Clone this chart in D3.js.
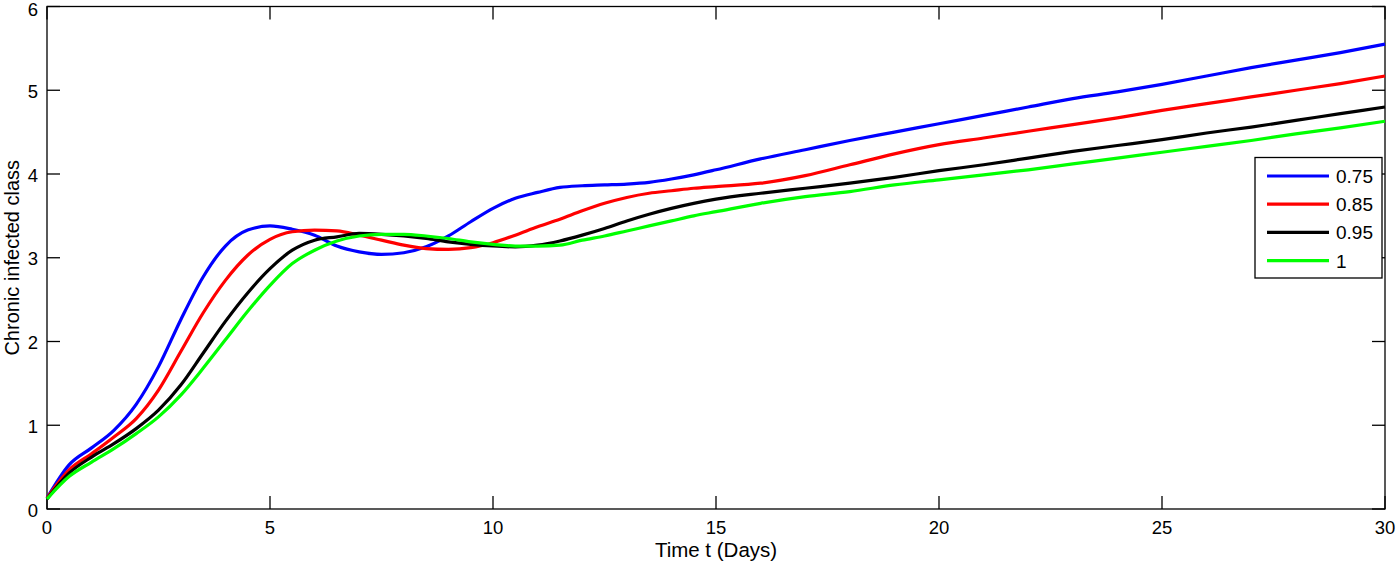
<!DOCTYPE html>
<html><head><meta charset="utf-8">
<script src="https://cdn.jsdelivr.net/npm/d3@7"></script>
<style>body{margin:0;background:#fff}svg{display:block}text{font-family:"Liberation Sans",Arial,sans-serif;fill:#000}</style>
</head><body><svg id="c" width="1397" height="563"></svg>
<script>
const times = [0,0.5,1,1.5,2,2.5,3,3.5,4,4.5,5,5.5,6,6.5,7,7.5,8,8.5,9,9.5,10,10.5,11,11.5,12,12.5,13,13.5,14,14.5,15,16,17,18,19,20,21,22,23,24,25,26,27,28,29,30];
const seriesNames = ["0.75","0.85","0.95","1"];
const seriesColors = ["#0000ff","#ff0000","#000000","#00ff00"];
const blue  = [0.13,0.53,0.73,0.94,1.25,1.70,2.26,2.77,3.14,3.33,3.38,3.34,3.27,3.14,3.07,3.04,3.06,3.13,3.26,3.43,3.59,3.71,3.78,3.84,3.86,3.87,3.88,3.90,3.94,3.99,4.05,4.18,4.29,4.40,4.50,4.60,4.70,4.80,4.90,4.98,5.07,5.17,5.27,5.36,5.45,5.55];
const red   = [0.13,0.47,0.66,0.86,1.08,1.42,1.88,2.34,2.73,3.03,3.22,3.31,3.33,3.32,3.27,3.21,3.15,3.11,3.10,3.12,3.18,3.27,3.37,3.46,3.56,3.65,3.72,3.77,3.80,3.83,3.85,3.89,3.98,4.11,4.24,4.35,4.43,4.51,4.59,4.67,4.76,4.84,4.92,5.00,5.08,5.17];
const black = [0.12,0.43,0.62,0.78,0.96,1.18,1.48,1.86,2.24,2.58,2.87,3.09,3.21,3.25,3.29,3.28,3.26,3.23,3.19,3.16,3.14,3.13,3.15,3.20,3.27,3.35,3.44,3.52,3.59,3.65,3.70,3.77,3.83,3.89,3.96,4.04,4.11,4.19,4.27,4.34,4.41,4.49,4.56,4.64,4.72,4.80];
const green = [0.12,0.39,0.56,0.72,0.90,1.10,1.36,1.68,2.02,2.36,2.67,2.93,3.09,3.20,3.26,3.28,3.28,3.26,3.23,3.19,3.16,3.14,3.14,3.15,3.21,3.26,3.32,3.38,3.44,3.50,3.55,3.65,3.73,3.79,3.87,3.93,3.99,4.05,4.12,4.19,4.26,4.33,4.40,4.48,4.55,4.63];
const xTicks = [0,5,10,15,20,25,30];
const yTicks = [0,1,2,3,4,5,6];
const xLabel = "Time t (Days)";
const yLabel = "Chronic infected class";

const allSeries = [blue, red, black, green];
const L = 47, R = 1385, T = 6.5, B = 509;
const svg = d3.select("#c");
const x = d3.scaleLinear().domain([0,30]).range([L,R]);
const y = d3.scaleLinear().domain([0,6]).range([B,T]);
const tl = 13;

svg.append("rect").attr("x",L).attr("y",T).attr("width",R-L).attr("height",B-T)
  .attr("fill","none").attr("stroke","#000").attr("stroke-width",1.3);

const tg = svg.append("g").attr("stroke","#000").attr("stroke-width",1.3);
xTicks.forEach(v=>{
  tg.append("line").attr("x1",x(v)).attr("x2",x(v)).attr("y1",B).attr("y2",B-tl);
  tg.append("line").attr("x1",x(v)).attr("x2",x(v)).attr("y1",T).attr("y2",T+tl);
});
yTicks.forEach(v=>{
  tg.append("line").attr("x1",L).attr("x2",L+tl).attr("y1",y(v)).attr("y2",y(v));
  tg.append("line").attr("x1",R).attr("x2",R-tl).attr("y1",y(v)).attr("y2",y(v));
});
svg.append("g").selectAll("text").data(xTicks).join("text")
  .attr("x",d=>x(d)).attr("y",B+25).attr("text-anchor","middle").attr("font-size",18.5).text(d=>d);
svg.append("g").selectAll("text").data(yTicks).join("text")
  .attr("x",L-9).attr("y",d=>Math.max(y(d)+7.5,15.5)).attr("text-anchor","end").attr("font-size",18.5).text(d=>d);

svg.append("text").attr("x",(L+R)/2).attr("y",557).attr("text-anchor","middle").attr("font-size",20.5).text(xLabel);
svg.append("text").attr("transform",`translate(18.5,${(T+B)/2}) rotate(-90)`).attr("text-anchor","middle").attr("font-size",20).text(yLabel);

const line = d3.line().x((d,i)=>x(times[i])).y(d=>y(d)).curve(d3.curveMonotoneX);
allSeries.forEach((s,k)=>{
  svg.append("path").datum(s).attr("d",line).attr("fill","none")
    .attr("stroke",seriesColors[k]).attr("stroke-width",3.2).attr("stroke-linejoin","round");
});

const lg = svg.append("g");
lg.append("rect").attr("x",1255).attr("y",157.5).attr("width",127).attr("height",120.5)
  .attr("fill","#fff").attr("stroke","#000").attr("stroke-width",1.3);
seriesNames.forEach((n,k)=>{
  const yy = 176 + k*28.2;
  lg.append("line").attr("x1",1267).attr("x2",1329).attr("y1",yy).attr("y2",yy)
    .attr("stroke",seriesColors[k]).attr("stroke-width",3.2);
  lg.append("text").attr("x",1336).attr("y",yy+7).attr("font-size",19).text(n);
});
</script></body></html>
